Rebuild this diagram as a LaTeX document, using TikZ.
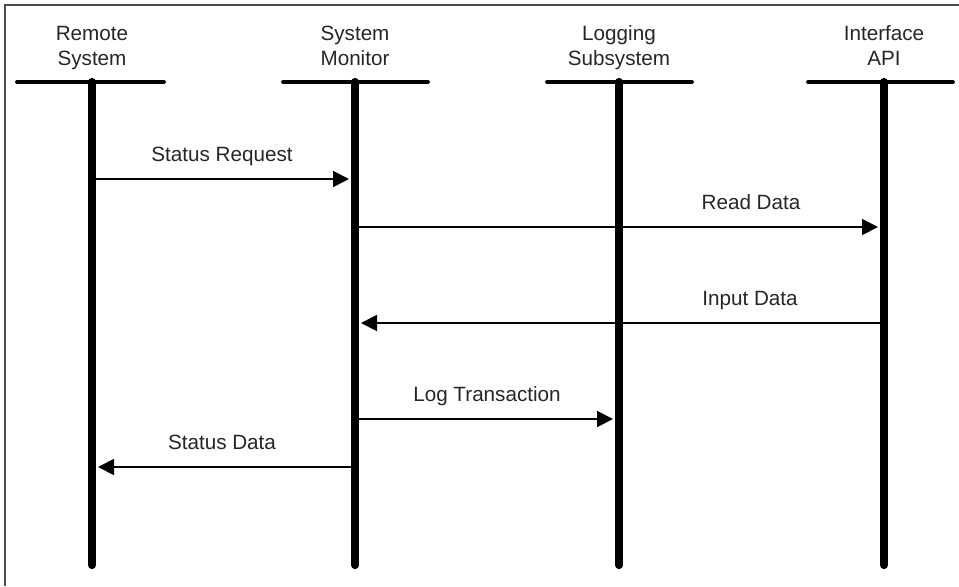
\documentclass[tikz,border=0pt]{standalone}
\usepackage{fontspec}
\setmainfont{Liberation Sans}
\usetikzlibrary{arrows.meta}
\tikzset{
  actor/.style = {anchor = base, align = center, text = black!85, inner sep = 0pt,
                  font = \fontsize{15.5}{18.75}\selectfont},
  msglabel/.style = {anchor = base, text = black!85, inner sep = 0pt,
                  font = \fontsize{15.5}{18.75}\selectfont},
  head/.style = {line width = 2.8pt, line cap = round},
  lifeline/.style = {line width = 6.2pt, line cap = round},
  msg/.style = {line width = 1.4pt, -{Triangle[length = 12pt, width = 12pt]}, shorten > = 4.5pt}
}
\begin{document}
\begin{tikzpicture} [x = 0.75pt, y = -0.75pt]
	\useasboundingbox (0,0) rectangle (959,586);
	% frame
	\draw [black!70, line width = 1.1pt] (5,586) -- (5,5) -- (959,5);
	% actors
	\node [actor] (rs) at (92,65) {Remote\\System};
	\node [actor] (sm) at (355,65) {System\\Monitor};
	\node [actor] (ls) at (619,65) {Logging\\Subsystem};
	\node [actor] (api) at (884,65) {Interface\\API};
	\coordinate (top) at (0,82);
	\coordinate (bot) at (0,565);
	\draw [head] (17,82) -- (164,82);
	\draw [head] (283,82) -- (428,82);
	\draw [head] (547,82) -- (692,82);
	\draw [head] (808,82) -- (953,82);
	\draw [lifeline] (rs |- top) -- (rs |- bot);
	\draw [lifeline] (sm |- top) -- (sm |- bot);
	\draw [lifeline] (ls |- top) -- (ls |- bot);
	\draw [lifeline] (api |- top) -- (api |- bot);
	% messages
	\coordinate (m1) at (0,179);
	\coordinate (m2) at (0,227);
	\coordinate (m3) at (0,323);
	\coordinate (m4) at (0,419);
	\coordinate (m5) at (0,467);
	\draw [msg] (rs |- m1) -- (sm |- m1);
	\node [msglabel] (l1) at (222,161) {Status Request};
	\draw [msg] (sm |- m2) -- (api |- m2);
	\node [msglabel] (l2) at (751,209) {Read Data};
	\draw [msg] (api |- m3) -- (sm |- m3);
	\node [msglabel] (l3) at (750,305) {Input Data};
	\draw [msg] (sm |- m4) -- (ls |- m4);
	\node [msglabel] (l4) at (487,401) {Log Transaction};
	\draw [msg] (sm |- m5) -- (rs |- m5);
	\node [msglabel] (l5) at (222,449) {Status Data};
\end{tikzpicture}
\end{document}
